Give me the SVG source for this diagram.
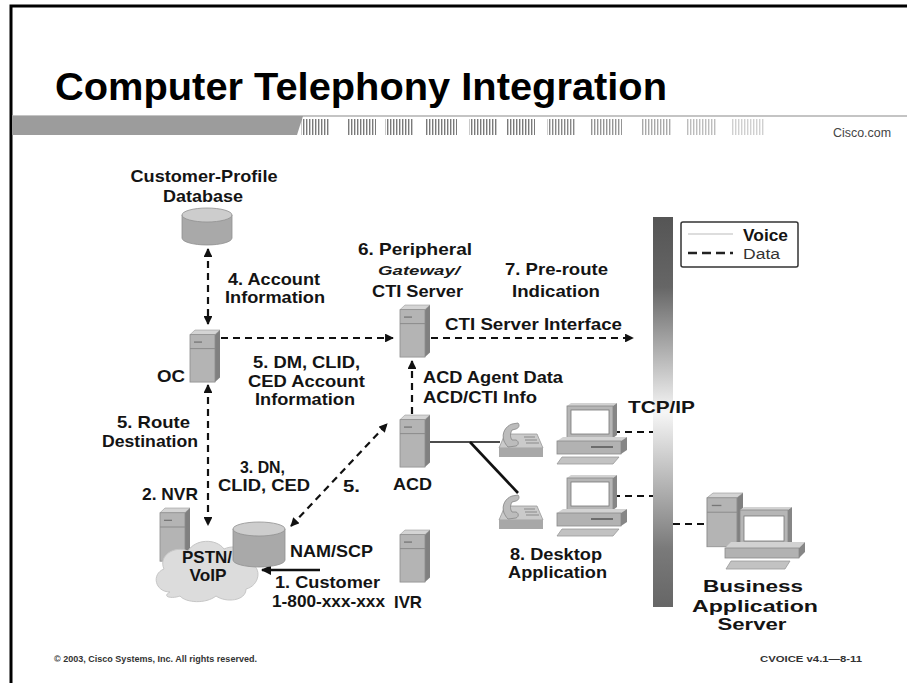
<svg xmlns="http://www.w3.org/2000/svg" width="907" height="683" viewBox="0 0 907 683">
  <style>
    .lb { font-family: "Liberation Sans", Arial, sans-serif; font-weight: bold; font-size: 17px; fill: #141414; }
    .sm { font-family: "Liberation Sans", Arial, sans-serif; font-size: 13px; fill: #1a1a1a; }
    .ft { font-family: "Liberation Sans", Arial, sans-serif; font-weight: bold; font-size: 8.5px; fill: #333; }
    .data { fill: none; stroke: #111; stroke-width: 2.2; stroke-dasharray: 7 5; }
    .voice { fill: none; stroke: #111; }
  </style>
  <defs>
    <marker id="ah" viewBox="0 0 10 10" refX="9" refY="5" markerWidth="4" markerHeight="4" orient="auto-start-reverse">
      <path d="M0,0 L10,5 L0,10 z" fill="#111"/>
    </marker>
    <pattern id="stripes" width="3" height="10" patternUnits="userSpaceOnUse">
      <rect x="0" y="0" width="1.4" height="10" fill="#7a7a7a"/>
    </pattern>
    <linearGradient id="busFill" x1="0" y1="0" x2="0" y2="1">
      <stop offset="0" stop-color="#555"/>
      <stop offset="0.18" stop-color="#666"/>
      <stop offset="0.5" stop-color="#f6f6f6"/>
      <stop offset="0.85" stop-color="#7a7a7a"/>
      <stop offset="1" stop-color="#666"/>
    </linearGradient>
    <!-- tower server, 30 x 56 -->
    <g id="tower">
      <polygon points="0,5 5,0 30,0 25,5" fill="#d4d4d4" stroke="#999" stroke-width="0.6"/>
      <polygon points="25,5 30,0 30,51 25,56" fill="#808080"/>
      <rect x="0" y="5" width="25" height="51" fill="#b4b4b4" stroke="#8c8c8c" stroke-width="0.8"/>
      <line x1="0" y1="20" x2="25" y2="20" stroke="#8a8a8a"/>
      <line x1="4" y1="13" x2="12" y2="13" stroke="#777" stroke-width="1.4"/>
    </g>
    <!-- desk telephone -->
    <g id="phone">
      <polygon points="8,12 40,12 46,26 2,26" fill="#cacaca" stroke="#999" stroke-width="0.8"/>
      <rect x="2" y="26" width="44" height="9" fill="#a8a8a8"/>
      <path d="M7,19 C4,11 9,4 15,2 L21,1 C23,3 22,6 19,7 L15,8 C13,12 13,15 15,18 L19,18 C22,19 22,23 19,24 L11,25 C9,23 8,21 7,19 Z" fill="#bcbcbc" stroke="#858585" stroke-width="0.8"/>
      <g stroke="#8a8a8a" stroke-width="1">
        <line x1="27" y1="15" x2="38" y2="15"/>
        <line x1="28" y1="18" x2="40" y2="18"/>
        <line x1="29" y1="21" x2="42" y2="21"/>
      </g>
    </g>
    <!-- desktop computer -->
    <g id="pc">
      <polygon points="10,3 14,0 60,0 56,3" fill="#d2d2d2"/>
      <polygon points="56,3 60,0 60,32 56,35" fill="#868686"/>
      <rect x="10" y="3" width="46" height="32" fill="#b6b6b6" stroke="#888" stroke-width="0.8"/>
      <rect x="14" y="7" width="38" height="24" fill="#fff" stroke="#777" stroke-width="0.8"/>
      <polygon points="0,38 6,34 70,34 64,38" fill="#d2d2d2"/>
      <rect x="0" y="38" width="64" height="13" fill="#b2b2b2" stroke="#8a8a8a" stroke-width="0.8"/>
      <polygon points="64,38 70,34 70,47 64,51" fill="#868686"/>
      <line x1="34" y1="44" x2="56" y2="44" stroke="#555" stroke-width="1.5"/>
      <polygon points="5,54 62,54 56,61 0,61" fill="#c2c2c2" stroke="#999" stroke-width="0.8"/>
    </g>
  </defs>

  <rect width="907" height="683" fill="#fff"/>

  <!-- page frame -->
  <path d="M11,683 V6 H907" fill="none" stroke="#000" stroke-width="3"/>

  <!-- heading -->
  <text x="55" y="100" font-family="Liberation Sans, Arial, sans-serif" font-weight="bold" font-size="39" fill="#000" textLength="612" lengthAdjust="spacingAndGlyphs">Computer Telephony Integration</text>

  <!-- header rule -->
  <g id="header-rule">
    <line x1="12" y1="116" x2="907" y2="116" stroke="#b0b0b0" stroke-width="1.5"/>
    <polygon points="12,116 303,116 297,135 12,135" fill="#9c9c9c"/>
    <rect x="301" y="119" width="29" height="16" fill="url(#stripes)"/>
    <rect x="347" y="119" width="29" height="16" fill="url(#stripes)"/>
    <rect x="385" y="119" width="29" height="16" fill="url(#stripes)"/>
    <rect x="425" y="119" width="32" height="16" fill="url(#stripes)"/>
    <rect x="469" y="119" width="28" height="16" fill="url(#stripes)"/>
    <rect x="506" y="119" width="29" height="16" fill="url(#stripes)"/>
    <rect x="547" y="119" width="29" height="16" fill="url(#stripes)" opacity="0.9"/>
    <rect x="590" y="119" width="32" height="16" fill="url(#stripes)" opacity="0.8"/>
    <rect x="642" y="119" width="29" height="16" fill="url(#stripes)" opacity="0.65"/>
    <rect x="686" y="119" width="31" height="16" fill="url(#stripes)" opacity="0.5"/>
    <rect x="732" y="119" width="32" height="16" fill="url(#stripes)" opacity="0.35"/>
    <text x="833" y="137" font-family="Liberation Sans, Arial, sans-serif" font-size="12" fill="#444" textLength="58" lengthAdjust="spacingAndGlyphs">Cisco.com</text>
  </g>

  <!-- network backbone -->
  <rect id="backbone" x="653" y="217" width="20" height="390" fill="url(#busFill)"/>

  <!-- legend -->
  <g id="legend">
    <rect x="681" y="222" width="117" height="45" rx="2" fill="#fff" stroke="#333" stroke-width="1.5"/>
    <line x1="688" y1="234" x2="733" y2="234" stroke="#bbb" stroke-width="1"/>
    <text x="743" y="241" class="lb" font-size="14" textLength="45" lengthAdjust="spacingAndGlyphs">Voice</text>
    <line x1="688" y1="253" x2="733" y2="253" stroke="#222" stroke-width="2.5" stroke-dasharray="9 5"/>
    <text x="743" y="259" font-family="Liberation Sans, Arial, sans-serif" font-size="14" fill="#333" textLength="37" lengthAdjust="spacingAndGlyphs">Data</text>
  </g>

  <!-- connectors -->
  <g id="connectors">
    <line class="data" x1="208" y1="249" x2="208" y2="324" marker-start="url(#ah)" marker-end="url(#ah)"/>
    <line class="data" x1="221" y1="338" x2="393" y2="338" marker-end="url(#ah)"/>
    <line class="data" x1="431" y1="338" x2="633" y2="338" marker-end="url(#ah)"/>
    <line class="data" x1="412" y1="414" x2="412" y2="361" marker-end="url(#ah)"/>
    <line class="data" x1="208" y1="385" x2="208" y2="525" marker-start="url(#ah)" marker-end="url(#ah)"/>
    <line class="data" x1="291" y1="526" x2="387" y2="424" marker-start="url(#ah)" marker-end="url(#ah)"/>
    <line x1="320" y1="570" x2="262" y2="570" stroke="#111" stroke-width="2.6" marker-end="url(#ah)"/>
    <line class="voice" x1="430" y1="442" x2="500" y2="442" stroke-width="1.6"/>
    <line class="voice" x1="470" y1="442" x2="518" y2="493" stroke-width="2.6"/>
    <line class="data" x1="613" y1="432" x2="653" y2="432"/>
    <line class="data" x1="613" y1="496" x2="653" y2="496"/>
    <line class="data" x1="673" y1="524" x2="707" y2="524"/>
  </g>

  <!-- customer profile database -->
  <g id="db">
    <path d="M182,215 V238 A25,7 0 0 0 232,238 V215 Z" fill="#a9a9a9" stroke="#909090" stroke-width="0.8"/>
    <ellipse cx="207" cy="215" rx="25" ry="7" fill="#cdcdcd" stroke="#909090" stroke-width="0.8"/>
    <text x="204" y="182" class="lb" text-anchor="middle" textLength="147" lengthAdjust="spacingAndGlyphs">Customer-Profile</text>
    <text x="203" y="202" class="lb" text-anchor="middle" textLength="80" lengthAdjust="spacingAndGlyphs">Database</text>
  </g>

  <text x="228" y="285" class="lb" textLength="92" lengthAdjust="spacingAndGlyphs">4. Account</text>
  <text x="225" y="303" class="lb" textLength="100" lengthAdjust="spacingAndGlyphs">Information</text>

  <!-- OC -->
  <g id="oc">
    <use href="#tower" transform="translate(190,330) scale(1,0.93)"/>
    <text x="157" y="382" class="lb" textLength="28" lengthAdjust="spacingAndGlyphs">OC</text>
  </g>

  <text x="253" y="368" class="lb" textLength="107" lengthAdjust="spacingAndGlyphs">5. DM, CLID,</text>
  <text x="248" y="387" class="lb" textLength="117" lengthAdjust="spacingAndGlyphs">CED Account</text>
  <text x="255" y="405" class="lb" textLength="100" lengthAdjust="spacingAndGlyphs">Information</text>

  <text x="117" y="428" class="lb" textLength="73" lengthAdjust="spacingAndGlyphs">5. Route</text>
  <text x="102" y="447" class="lb" textLength="96" lengthAdjust="spacingAndGlyphs">Destination</text>

  <text x="240" y="473" class="lb" font-size="16" textLength="45" lengthAdjust="spacingAndGlyphs">3. DN,</text>
  <text x="218" y="491" class="lb" font-size="16" textLength="92" lengthAdjust="spacingAndGlyphs">CLID, CED</text>
  <text x="343" y="492" class="lb" textLength="17" lengthAdjust="spacingAndGlyphs">5.</text>

  <!-- NVR -->
  <g id="nvr">
    <use href="#tower" transform="translate(160,508) scale(1,0.95)"/>
    <text x="142" y="500" class="lb" textLength="56" lengthAdjust="spacingAndGlyphs">2. NVR</text>
  </g>

  <!-- PSTN / VoIP cloud -->
  <g id="pstn">
    <path d="M170,592 C155,592 151,574 164,569 C158,556 174,545 188,551 C195,539 216,538 224,549 C237,543 253,551 250,563 C263,568 259,586 246,589 C246,601 226,603 216,596 C206,604 186,603 180,596 C172,599 161,597 170,592 Z" fill="#dcdcdc" stroke="#c6c6c6" stroke-width="1"/>
  </g>

  <!-- NAM/SCP -->
  <g id="nam">
    <path d="M233,529 V560 A26,7 0 0 0 285,560 V529 Z" fill="#a9a9a9" stroke="#909090" stroke-width="0.8"/>
    <ellipse cx="259" cy="529" rx="26" ry="7" fill="#cdcdcd" stroke="#909090" stroke-width="0.8"/>
    <text x="290" y="557" class="lb" textLength="83" lengthAdjust="spacingAndGlyphs">NAM/SCP</text>
  </g>

  <text x="207" y="563" class="lb" font-size="16" text-anchor="middle" textLength="50" lengthAdjust="spacingAndGlyphs">PSTN/</text>
  <text x="208" y="581" class="lb" font-size="16" text-anchor="middle" textLength="37" lengthAdjust="spacingAndGlyphs">VoIP</text>

  <text x="275" y="588" class="lb" textLength="105" lengthAdjust="spacingAndGlyphs">1. Customer</text>
  <text x="272" y="607" class="lb" font-size="15" textLength="113" lengthAdjust="spacingAndGlyphs">1-800-xxx-xxx</text>

  <!-- Peripheral gateway / CTI server -->
  <g id="pg">
    <use href="#tower" transform="translate(400,305) scale(1,0.93)"/>
    <text x="358" y="255" class="lb" textLength="114" lengthAdjust="spacingAndGlyphs">6. Peripheral</text>
    <text x="378" y="275" class="sm" font-style="italic" font-weight="bold" textLength="82" lengthAdjust="spacingAndGlyphs">Gateway/</text>
    <text x="372" y="297" class="lb" textLength="91" lengthAdjust="spacingAndGlyphs">CTI Server</text>
  </g>

  <text x="505" y="275" class="lb" font-size="14" textLength="103" lengthAdjust="spacingAndGlyphs">7. Pre-route</text>
  <text x="512" y="297" class="lb" textLength="88" lengthAdjust="spacingAndGlyphs">Indication</text>
  <text x="445" y="330" class="lb" textLength="177" lengthAdjust="spacingAndGlyphs">CTI Server Interface</text>

  <text x="423" y="383" class="lb" textLength="140" lengthAdjust="spacingAndGlyphs">ACD Agent Data</text>
  <text x="423" y="403" class="lb" textLength="114" lengthAdjust="spacingAndGlyphs">ACD/CTI Info</text>

  <!-- ACD -->
  <g id="acd">
    <use href="#tower" transform="translate(400,415) scale(1,0.93)"/>
    <text x="393" y="490" class="lb" textLength="39" lengthAdjust="spacingAndGlyphs">ACD</text>
  </g>

  <!-- IVR -->
  <g id="ivr">
    <use href="#tower" transform="translate(400,530) scale(1,0.93)"/>
    <text x="394" y="608" class="lb" textLength="28" lengthAdjust="spacingAndGlyphs">IVR</text>
  </g>

  <!-- agent desktops -->
  <g id="desk1">
    <use href="#phone" transform="translate(497,422)"/>
    <use href="#pc" transform="translate(557,403)"/>
  </g>
  <g id="desk2">
    <use href="#phone" transform="translate(497,494)"/>
    <use href="#pc" transform="translate(557,475)"/>
  </g>
  <text x="628" y="413" class="lb" textLength="67" lengthAdjust="spacingAndGlyphs">TCP/IP</text>
  <text x="510" y="560" class="lb" textLength="92" lengthAdjust="spacingAndGlyphs">8. Desktop</text>
  <text x="508" y="578" class="lb" textLength="99" lengthAdjust="spacingAndGlyphs">Application</text>

  <!-- business application server -->
  <g id="bas">
    <use href="#tower" transform="translate(707,493) scale(1.2,0.96)"/>
    <polygon points="740,510 744,507 792,507 788,510" fill="#d2d2d2"/>
    <polygon points="788,510 792,507 792,544 788,547" fill="#868686"/>
    <rect x="740" y="510" width="48" height="37" fill="#b6b6b6" stroke="#888" stroke-width="0.8"/>
    <rect x="744" y="516" width="40" height="25" fill="#fff" stroke="#777" stroke-width="0.8"/>
    <polygon points="725,548 731,542 805,542 799,548" fill="#d2d2d2"/>
    <rect x="725" y="548" width="74" height="10" fill="#b2b2b2" stroke="#8a8a8a" stroke-width="0.8"/>
    <polygon points="799,548 805,542 805,552 799,558" fill="#868686"/>
    <polygon points="731,561 790,561 785,569 726,569" fill="#c2c2c2" stroke="#999" stroke-width="0.8"/>
    <text x="753" y="592" class="lb" font-size="19" text-anchor="middle" textLength="100" lengthAdjust="spacingAndGlyphs">Business</text>
    <text x="755" y="612" class="lb" font-size="19" text-anchor="middle" textLength="126" lengthAdjust="spacingAndGlyphs">Application</text>
    <text x="752" y="630" class="lb" font-size="19" text-anchor="middle" textLength="69" lengthAdjust="spacingAndGlyphs">Server</text>
  </g>

  <!-- footer -->
  <text x="54" y="662" class="ft" textLength="203" lengthAdjust="spacingAndGlyphs">© 2003, Cisco Systems, Inc. All rights reserved.</text>
  <text x="862" y="662" class="ft" text-anchor="end" textLength="102" lengthAdjust="spacingAndGlyphs">CVOICE v4.1—8-11</text>
</svg>
